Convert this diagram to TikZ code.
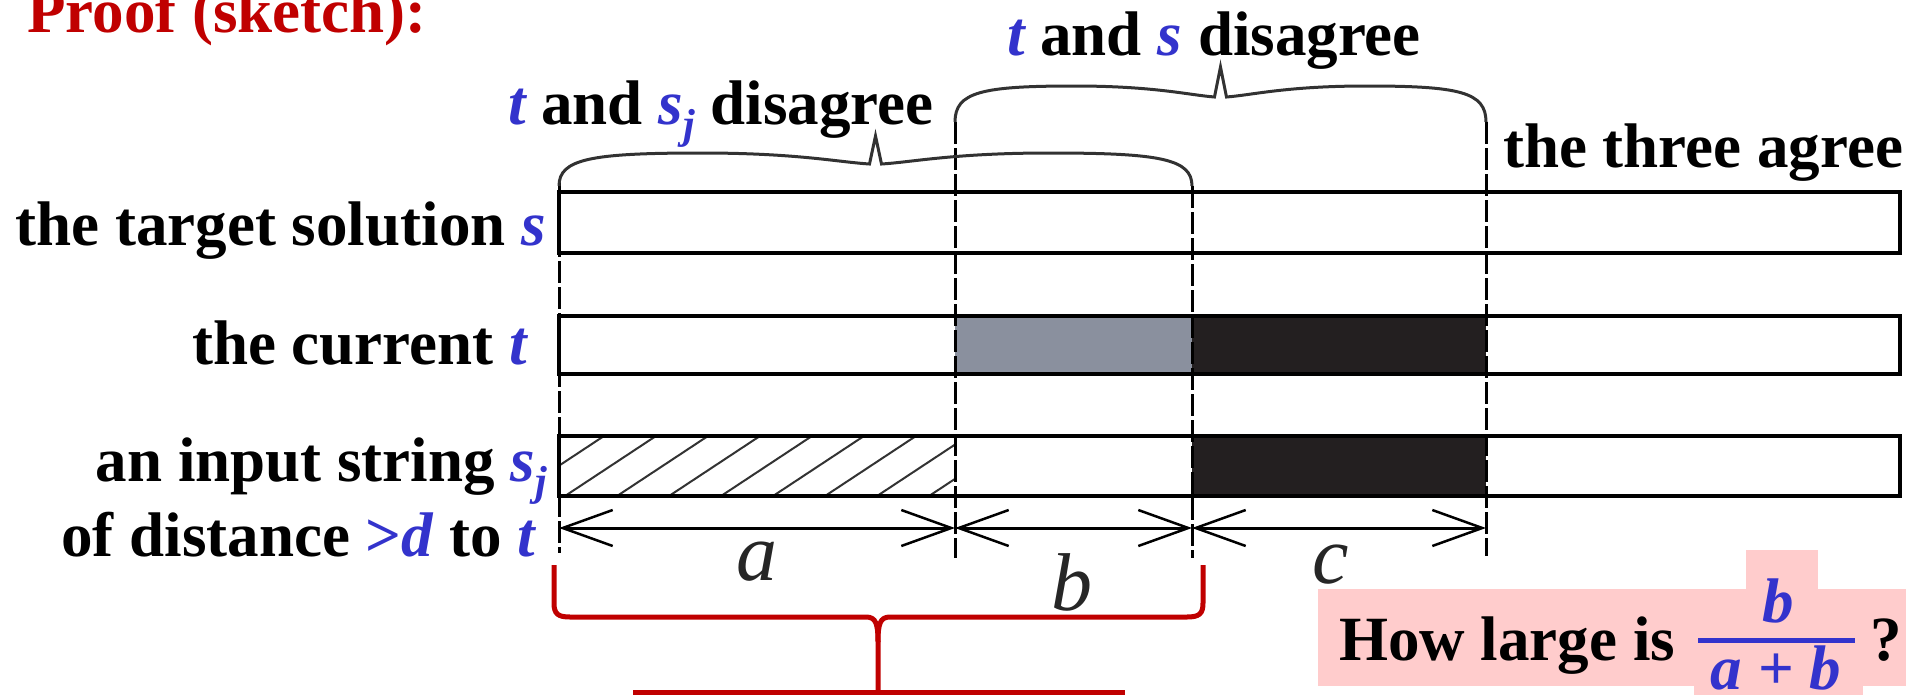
\documentclass[tikz,border=0pt]{standalone}
\usepackage{fontspec}
\setmainfont{Liberation Serif}
\usetikzlibrary{arrows.meta}
\definecolor{myred}{RGB}{192,0,0}
\definecolor{myblue}{RGB}{51,51,204}
\definecolor{bargray}{RGB}{138,144,158}
\definecolor{barblack}{RGB}{35,31,32}
\definecolor{pinkbg}{RGB}{255,204,204}
\definecolor{bracegray}{RGB}{50,50,50}
\newcommand{\bt}[1]{{\color{myblue}\itshape #1}}
\newcommand{\sj}{{\color{myblue}\itshape s\raisebox{-14pt}{\fontsize{42}{42}\selectfont j}}}
\newcommand{\topbrace}[5]{%
  \pgfmathsetmacro{\tbxm}{(#1+#2)/2}%
  \pgfmathsetmacro{\tbhh}{(#2-#1)/2}%
  \draw[tbrace] (#1,#3) .. controls (#1,#4+6) and (#1+0.1*\tbhh,#4) .. (#1+0.45*\tbhh,#4)
   .. controls (#1+0.75*\tbhh,#4) and (\tbxm-0.12*\tbhh,#4+9) .. (\tbxm-6,#4+11) -- (\tbxm,#5) -- (\tbxm+6,#4+11)
   .. controls (\tbxm+0.12*\tbhh,#4+9) and (#2-0.75*\tbhh,#4) .. (#2-0.45*\tbhh,#4)
   .. controls (#2-0.1*\tbhh,#4) and (#2,#4+6) .. (#2,#3);}
\begin{document}
\begin{tikzpicture}[x=1pt,y=-1pt,
  lbl/.style={font=\fontsize{63}{70}\selectfont\bfseries, inner sep=0pt},
  barbox/.style={draw=black, line width=4pt},
  divline/.style={draw=black, line width=3pt, dash pattern=on 22pt off 4pt},
  tbrace/.style={draw=bracegray, line width=3pt},
  hatch/.style={draw=black!80, line width=2pt},
  dimarrow/.style={draw=black, line width=3pt,
    {Straight Barb[length=50pt,width=36pt,line width=2.5pt]}-{Straight Barb[length=50pt,width=36pt,line width=2.5pt]}},
  letter/.style={font=\fontsize{82}{90}\selectfont\itshape, inner sep=0pt, text=black!85},
  redbrace/.style={draw=myred, line width=5pt},
]
\useasboundingbox (0,0) rectangle (1915,694);
\clip (0,0) rectangle (1915,694);

% pink highlight
\fill[pinkbg] (1318,589) rectangle (1906,686);
\fill[pinkbg] (1746,550) rectangle (1818,600);
\fill[pinkbg] (1694,680) rectangle (1863,700);

% fills
\fill[bargray] (955,316) rectangle (1192,374);
\fill[barblack] (1192,316) rectangle (1486,374);
\fill[barblack] (1192,436) rectangle (1486,496);

% hatching
\begin{scope}
  \clip (559,436) rectangle (955,496);
  \foreach \k in {0,...,8} {
    \draw[hatch] (507+52*\k,500) -- ++(100,-66);
  }
\end{scope}

% bars
\draw[barbox] (559,192) rectangle (1900,253);
\draw[barbox] (559,316) rectangle (1900,374);
\draw[barbox] (559,436) rectangle (1900,496);

% dividers
\coordinate (v0t) at (559,183);  \coordinate (v0b) at (559,553);
\coordinate (v1t) at (955,122);  \coordinate (v1b) at (955,558);
\coordinate (v2t) at (1192,186); \coordinate (v2b) at (1192,558);
\coordinate (v3t) at (1486,122); \coordinate (v3b) at (1486,556);
\draw[divline] (v0t) -- (v0b);
\draw[divline] (v1t) -- (v1b);
\draw[divline] (v2t) -- (v2b);
\draw[divline] (v3t) -- (v3b);

% top braces
\topbrace{559}{1192}{186}{153}{136}
\topbrace{955}{1486}{122}{86}{67}

% dimension arrows
\coordinate (d0) at (559,528);
\coordinate (d1) at (955,528);
\coordinate (d2) at (1192,528);
\coordinate (d3) at (1486,528);
\draw[dimarrow] (d0) -- (d1);
\draw[dimarrow] (d1) -- (d2);
\draw[dimarrow] (d2) -- (d3);

\node[letter, anchor=base] (la) at (757,580) {a};
\node[letter, anchor=base] (lb) at (1072,610) {b};
\node[letter, anchor=base] (lc) at (1331,583) {c};

% red brace and box
\draw[redbrace] (554,565) -- (554,603) .. controls (554,614) and (558,617) .. (570,617)
  -- (866,617) .. controls (876,617) and (878,624) .. (878,642) -- (878,694);
\draw[redbrace] (1203,565) -- (1203,603) .. controls (1203,614) and (1199,617) .. (1187,617)
  -- (890,617) .. controls (880,617) and (878,624) .. (878,642);
\draw[redbrace] (635,692) rectangle (1122,760);

% labels
\node[lbl, text=myred, anchor=base west] (title) at (27,32) {Proof (sketch):};
\node[lbl, anchor=base west] (dis1) at (508,124) {\bt{t} and \sj\ disagree};
\node[lbl, anchor=base west] (dis2) at (1007,55) {\bt{t} and \bt{s} disagree};
\node[lbl, anchor=base west] (three) at (1503,167) {the three agree};
\node[lbl, anchor=base east] (lblST) at (546,245) {the target solution \bt{s}};
\node[lbl, anchor=base east] (lblCT) at (527,364) {the current \bt{t}};
\node[lbl, anchor=base east] (lblIS) at (547,481) {an input string \sj};
\node[lbl, anchor=base east] (lblDist) at (535,556) {of distance {\color{myblue}>\itshape d} to \bt{t}};

% question
\node[lbl, anchor=base west] (q) at (1339,660) {How large is};
\node[lbl, anchor=base] (num) at (1778,622) {\bt{b}};
\node[lbl, anchor=base] (den) at (1776,689) {\color{myblue}\itshape a \upshape+ \itshape b};
\coordinate (fbl) at (1698,640);
\coordinate (fbr) at (1855,640);
\draw[myblue, line width=5pt] (fbl) -- (fbr);
\node[lbl, anchor=base west] (qmark) at (1870,660) {?};
\end{tikzpicture}
\end{document}
